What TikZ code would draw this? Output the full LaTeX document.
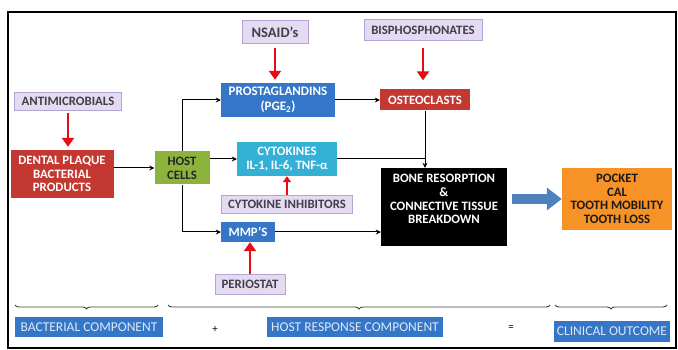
\documentclass[tikz,border=0pt]{standalone}
\usepackage{fontspec}
\setmainfont{Carlito}
\usetikzlibrary{arrows.meta,decorations.pathreplacing}
\definecolor{drugfill}{RGB}{228,219,243}
\definecolor{drugedge}{RGB}{180,164,214}
\definecolor{drugtext}{RGB}{64,64,70}
\definecolor{plaquered}{RGB}{196,56,50}
\definecolor{hostgreen}{RGB}{140,180,60}
\definecolor{medblue}{RGB}{52,118,200}
\definecolor{cytocyan}{RGB}{52,176,214}
\definecolor{outorange}{RGB}{246,146,38}
\definecolor{inhibred}{RGB}{232,10,20}
\definecolor{bigblue}{RGB}{79,129,189}
\definecolor{labeltext}{RGB}{222,232,246}

\begin{document}
\begin{tikzpicture}[x=1pt, y=-1pt, font=\bfseries\fontsize{12.8}{13.8}\selectfont,
  box/.style={align=center, inner sep=1pt},
  drug/.style={box, fill=drugfill, draw=drugedge, text=drugtext},
  flowline/.style={line width=1pt, -{Stealth[length=5pt,width=5pt]}},
  inhibit/.style={inhibred, line width=2.6pt, -{Triangle[length=9pt,width=12pt]}},
  part/.style={box, fill=medblue, text=labeltext, minimum height=20pt, font=\fontsize{13.5}{14}\selectfont},
  bracket/.style={decorate, decoration={brace, mirror, amplitude=4pt}, line width=0.9pt, black!75}]
\useasboundingbox (0,0) rectangle (678,350);
\draw[line width=1.2pt] (8,12) rectangle (676,348);

% Bacterial side
\node[drug, minimum width=107pt, minimum height=18pt] (antimicro) at (68,101) {ANTIMICROBIALS};
\node[box, fill=plaquered, text=white, minimum width=103pt, minimum height=48pt] (plaque) at (62,174) {DENTAL PLAQUE\\BACTERIAL\\PRODUCTS};
\node[box, fill=hostgreen, text=black!85, minimum width=55pt, minimum height=33pt] (host) at (182,168) {HOST\\CELLS};

% Host mediators
\node[box, fill=medblue, text=white, minimum width=114pt, minimum height=34pt, font=\bfseries\fontsize{13}{15}\selectfont] (prosta) at (278,100) {PROSTAGLANDINS\\(PGE\textsubscript{2})};
\node[box, fill=cytocyan, text=white, minimum width=100pt, minimum height=34pt] (cyto) at (287,159) {CYTOKINES\\IL-1, IL-6, TNF-α};
\node[box, fill=medblue, text=white, minimum width=54pt, minimum height=20pt] (mmp) at (248,232) {MMP’S};
\node[box, fill=plaquered, text=white, minimum width=90pt, minimum height=21pt] (osteo) at (425,100) {OSTEOCLASTS};

% Drugs
\node[drug, minimum width=66pt, minimum height=23pt, font=\bfseries\fontsize{14.5}{16}\selectfont] (nsaid) at (275,32) {NSAID’s};
\node[drug, minimum width=118pt, minimum height=21pt] (bisphos) at (423,30) {BISPHOSPHONATES};
\node[drug, minimum width=131pt, minimum height=18pt] (cytoinh) at (287,204) {CYTOKINE INHIBITORS};
\node[drug, minimum width=70pt, minimum height=20pt] (periostat) at (250,284) {PERIOSTAT};

% Outcome
\node[box, fill=black, text=white, minimum width=126pt, minimum height=78pt, font=\bfseries\fontsize{12.8}{13.8}\selectfont] (bone) at (444,207) {BONE RESORPTION\\\&\\CONNECTIVE TISSUE\\BREAKDOWN\\[2pt]};
\node[box, fill=outorange, text=black!90, minimum width=110pt, minimum height=62pt, font=\bfseries\fontsize{12.8}{13.5}\selectfont] (outcome) at (617,199) {POCKET\\CAL\\TOOTH MOBILITY\\TOOTH LOSS};

% Flow
\draw[flowline] (plaque.east |- host) -- (host);
\draw[flowline] (host.north) |- (prosta.west);
\draw[flowline] (host.east |- cyto) -- (cyto.west);
\draw[flowline] (host.south) |- (mmp.west);
\draw[flowline] (prosta) -- (osteo);
\draw[flowline] (osteo.south) -- (osteo.south |- bone.north);
\draw[line width=1pt] (cyto.east) -- (cyto.east -| osteo.south);
\draw[flowline] (mmp.east) -- (mmp.east -| bone.west);
\draw[bigblue, line width=10pt, -{Triangle[length=15pt,width=22pt]}] ([xshift=5pt]bone.east |- outcome.west) -- (outcome.west);

% Drug actions
\draw[inhibit, shorten <=3pt, shorten >=3pt] (antimicro) -- (antimicro |- plaque.north);
\draw[inhibit, shorten <=4pt, shorten >=3pt] (nsaid.south) -- (nsaid.south |- prosta.north);
\draw[inhibit, shorten <=7pt, shorten >=9pt] (bisphos.south) -- (bisphos.south |- osteo.north);
\draw[inhibit, line width=1.8pt, -{Triangle[length=6pt,width=8pt]}] (cytoinh.north) -- (cytoinh.north |- cyto.south);
\draw[inhibit] (periostat.north) -- (periostat.north |- mmp.south);

% Components
\draw[bracket] (15,305) -- (158,305);
\draw[bracket] (168,305) -- (550,305);
\draw[bracket] (555,305) -- (667,305);
\node[part, minimum width=148pt] (bactpart) at (89,327) {BACTERIAL COMPONENT};
\node[font=\fontsize{11}{12}\selectfont] (plus) at (215,329) {+};
\node[part, minimum width=176pt] (hostpart) at (355,327) {HOST RESPONSE COMPONENT};
\node[font=\fontsize{11}{12}\selectfont] (equals) at (511,328) {=};
\node[part, minimum width=116pt, minimum height=21pt] (clinpart) at (612,331) {CLINICAL OUTCOME};
\end{tikzpicture}
\end{document}
